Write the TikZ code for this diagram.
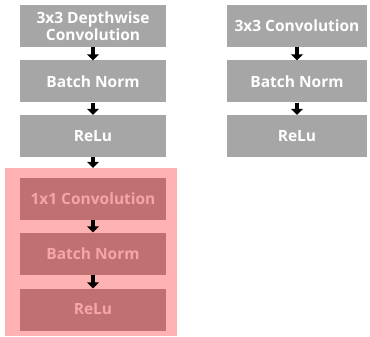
\documentclass[tikz,border=0pt]{standalone}
\usepackage{fontspec}
\setmainfont{Open Sans}
\usetikzlibrary{arrows.meta}
\definecolor{blk_grey}{RGB}{166, 166, 166}
\definecolor{pw_back}{RGB}{255, 178, 178}
\definecolor{pw_box}{RGB}{192, 112, 112}
\definecolor{pw_text}{RGB}{244, 166, 166}
\tikzstyle{gb}=[rectangle,fill=blk_grey,text=white,font=\bfseries\fontsize{15.5}{18}\selectfont,
  align=center,inner sep=0pt,minimum height=42pt]
\tikzstyle{rb}=[rectangle,fill=pw_box,text=pw_text,font=\bfseries\fontsize{15.5}{18}\selectfont,
  align=center,inner sep=0pt,minimum width=146pt,minimum height=42pt]
\tikzstyle{bg}=[rectangle,fill=pw_back,inner sep=0pt,minimum width=172pt,minimum height=168pt]
\tikzstyle{fl}=[line width=4.5pt,-{Triangle[width=12pt,length=6pt]}]

\begin{document}
\begin{tikzpicture}[x=1pt,y=-1pt]
    \useasboundingbox (0,0) rectangle (370,337);
            \node [style=bg] (pw) at (91, 252) {};
            \node [style=gb,minimum width=146pt] (0) at (93, 26) {3x3 Depthwise\\[-1pt]Convolution};
            \node [style=gb,minimum width=146pt] (1) at (93, 81.5) {Batch Norm};
            \node [style=gb,minimum width=146pt] (2) at (93, 136) {ReLu};
            \node [style=rb] (3) at (93, 198.5) {1x1 Convolution};
            \node [style=rb] (4) at (93, 253.5) {Batch Norm};
            \node [style=rb] (5) at (93, 309.5) {ReLu};
            \node [style=gb,minimum width=140pt] (6) at (297, 26) {3x3 Convolution};
            \node [style=gb,minimum width=140pt] (7) at (297, 81.5) {Batch Norm};
            \node [style=gb,minimum width=140pt] (8) at (297, 136) {ReLu};
            \draw [style=fl] (0) to (1);
            \draw [style=fl] (1) to (2);
            \draw [style=fl] (2.south) to (2.south |- pw.north);
            \draw [style=fl] (3) to (4);
            \draw [style=fl] (4) to (5);
            \draw [style=fl] (6) to (7);
            \draw [style=fl] (7) to (8);
    \end{tikzpicture}
\end{document}
